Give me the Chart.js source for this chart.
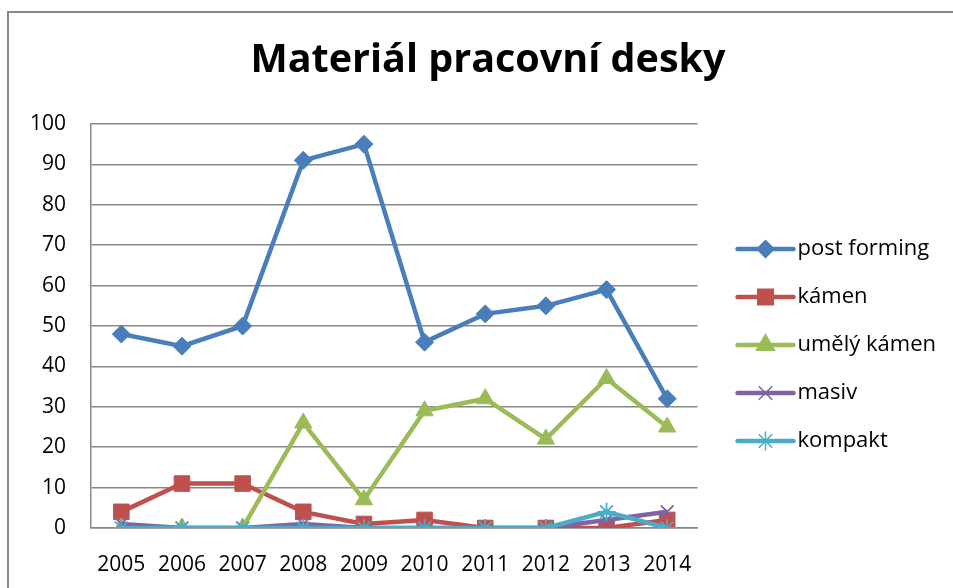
<!DOCTYPE html>
<html>
<head>
<meta charset="utf-8">
<script src="https://cdn.jsdelivr.net/npm/chart.js@4"></script>
<style>
  html, body { margin: 0; padding: 0; background: #fff; overflow: hidden; }
  #frame { position: absolute; left: 7px; top: 11px; width: 1000px; height: 1000px; border: 2px solid #878787; }
  #chart { position: absolute; left: 0; top: 0; }
</style>
</head>
<body>
<div id="frame"></div>
<canvas id="chart" width="953" height="588"></canvas>
<script>
// data
const years = ['2005', '2006', '2007', '2008', '2009', '2010', '2011', '2012', '2013', '2014'];
const postForming = [48, 45, 50, 91, 95, 46, 53, 55, 59, 32];
const kamen = [4, 11, 11, 4, 1, 2, 0, 0, 0, 2];
const umelyKamen = [0, 0, 0, 26, 7, 29, 32, 22, 37, 25];
const masiv = [1, 0, 0, 1, 0, 0, 0, 0, 2, 4];
const kompakt = [0, 0, 0, 0, 0, 0, 0, 0, 4, 0];
const seriesNames = ['post forming', 'kámen', 'umělý kámen', 'masiv', 'kompakt'];
const seriesColors = ['#4a7ebb', '#c0504d', '#9bbb59', '#8064a2', '#4bacc6'];

const FONT = '"Open Sans", Lato, sans-serif';
const GRID = '#878787';

// legend icon: short line with the marker in the middle
const BOX_W = 63, ICON_W = 84, ICON_H = 24, LINE_OFF = 14, LINE_LEN = 56;

function drawMarker(g, style, x, y, r) {
    g.beginPath();
    if (style === 'rectRot') {
        g.moveTo(x, y - r); g.lineTo(x + r, y); g.lineTo(x, y + r); g.lineTo(x - r, y); g.closePath();
        g.fill(); g.stroke();
    } else if (style === 'rect') {
        const s = r * Math.SQRT1_2;
        g.rect(x - s, y - s, 2 * s, 2 * s);
        g.fill(); g.stroke();
    } else if (style === 'triangle') {
        g.moveTo(x, y - r);
        g.lineTo(x + r * 0.866, y + r * 0.5);
        g.lineTo(x - r * 0.866, y + r * 0.5);
        g.closePath();
        g.fill(); g.stroke();
    } else if (style === 'crossRot') {
        const d = r * Math.SQRT1_2;
        g.moveTo(x - d, y - d); g.lineTo(x + d, y + d);
        g.moveTo(x - d, y + d); g.lineTo(x + d, y - d);
        g.stroke();
    } else if (style === 'star') {
        const d = r * Math.SQRT1_2;
        g.moveTo(x, y - r); g.lineTo(x, y + r);
        g.moveTo(x - r, y); g.lineTo(x + r, y);
        g.moveTo(x - d, y - d); g.lineTo(x + d, y + d);
        g.moveTo(x - d, y + d); g.lineTo(x + d, y - d);
        g.stroke();
    }
}

function legendIcon(color, style, r) {
    const c = document.createElement('canvas');
    c.width = ICON_W;
    c.height = ICON_H;
    const g = c.getContext('2d');
    const x0 = ICON_W / 2 - BOX_W / 2 + LINE_OFF;
    const cy = ICON_H / 2;
    g.strokeStyle = color;
    g.fillStyle = color;
    g.lineCap = 'round';
    g.lineWidth = 4.5;
    g.beginPath();
    g.moveTo(x0, cy);
    g.lineTo(x0 + LINE_LEN, cy);
    g.stroke();
    g.lineCap = 'butt';
    g.lineWidth = 1.5;
    drawMarker(g, style, x0 + LINE_LEN / 2, cy, r);
    return c;
}

function makeSet(i, data, style, radius, legendR) {
    return {
        label: seriesNames[i],
        data: data,
        borderColor: seriesColors[i],
        backgroundColor: seriesColors[i],
        borderWidth: 4.5,
        tension: 0,
        pointStyle: style,
        pointRadius: radius,
        pointBorderWidth: style === 'crossRot' || style === 'star' ? 1.8 : 1,
        pointBackgroundColor: seriesColors[i],
        pointBorderColor: seriesColors[i],
        order: 5 - i,          // later series on top, like the original
        legendIcon: legendIcon(seriesColors[i], style, legendR)
    };
}

const datasets = [
    makeSet(0, postForming, 'rectRot', 9, 8.5),
    makeSet(1, kamen, 'rect', 11, 11),
    makeSet(2, umelyKamen, 'triangle', 10, 10.5),
    makeSet(3, masiv, 'crossRot', 9, 9.5),
    makeSet(4, kompakt, 'star', 9, 9.5)
];

new Chart(document.getElementById('chart'), {
    type: 'line',
    data: { labels: years, datasets: datasets },
    options: {
        responsive: false,
        animation: false,
        layout: { padding: { left: 30, right: 7, top: 0, bottom: 8 } },
        plugins: {
            tooltip: { enabled: false },
            title: {
                display: true,
                text: 'Materiál pracovní desky',
                color: '#000',
                font: { family: FONT, size: 39.5, weight: 'bold', lineHeight: 1.2 },
                padding: { top: 37, bottom: 39.6 }
            },
            legend: {
                position: 'right',
                fullSize: false,
                maxWidth: 320,
                title: { display: true, text: ' ', font: { size: 10, lineHeight: 1.2 }, padding: { top: 13, bottom: 13 } },
                labels: {
                    usePointStyle: true,
                    pointStyleWidth: BOX_W,
                    boxHeight: 21,
                    padding: 26,
                    color: '#000',
                    font: { family: FONT, size: 22 },
                    generateLabels: chart => chart.data.datasets.map((ds, i) => ({
                        text: ds.label,
                        fontColor: '#000',
                        pointStyle: ds.legendIcon,
                        fillStyle: ds.borderColor,
                        strokeStyle: ds.borderColor,
                        lineWidth: 0,
                        hidden: false,
                        datasetIndex: i
                    }))
                }
            }
        },
        scales: {
            x: {
                offset: true,
                afterFit: scale => { scale.height = 52; },
                grid: { display: false, drawTicks: false },
                border: { display: true, color: GRID, width: 1.5 },
                ticks: { color: '#000', padding: 24, font: { family: FONT, size: 21 } }
            },
            y: {
                min: 0,
                max: 100,
                afterFit: scale => { scale.width = 61; },
                grid: { color: GRID, lineWidth: 1.5, drawTicks: false },
                border: { display: true, color: GRID, width: 1.5 },
                ticks: { stepSize: 10, color: '#000', padding: 25, font: { family: FONT, size: 21 } }
            }
        }
    }
});
</script>
</body>
</html>
